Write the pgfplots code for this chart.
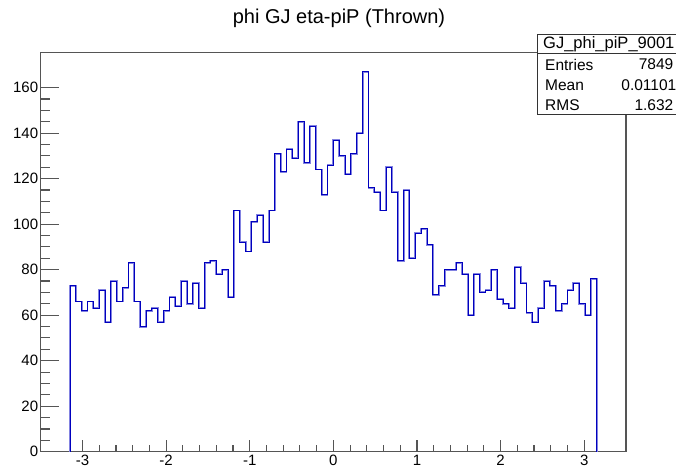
\documentclass[border=0pt]{standalone}
\usepackage{pgfplots}
\pgfplotsset{compat=1.18}
\usepackage{fontspec}
\setmainfont{Liberation Sans}
\definecolor{rootblue}{RGB}{0,0,190}
\definecolor{halo}{RGB}{130,130,225}
\definecolor{framegray}{RGB}{85,85,85}
\pgfplotstableread{
x y
-3.15 0
-3.15 73
-3.08 66
-3.01 62
-2.94 66
-2.87 63
-2.80 71
-2.73 57
-2.66 75
-2.59 66
-2.52 72
-2.45 83
-2.38 66
-2.31 55
-2.24 62
-2.17 63
-2.10 57
-2.03 62
-1.96 68
-1.89 64
-1.82 75
-1.75 65
-1.68 74
-1.61 63
-1.54 83
-1.47 84
-1.40 78
-1.33 80
-1.26 68
-1.19 106
-1.12 92
-1.05 88
-0.98 101
-0.91 104
-0.84 92
-0.77 106
-0.70 131
-0.63 123
-0.56 133
-0.49 129
-0.42 145
-0.35 127
-0.28 143
-0.21 124
-0.14 113
-0.07 126
0.00 137
0.07 130
0.14 122
0.21 131
0.28 140
0.35 167
0.42 116
0.49 114
0.56 106
0.63 125
0.70 114
0.77 84
0.84 115
0.91 85
0.98 96
1.05 98
1.12 91
1.19 69
1.26 73
1.33 80
1.40 80
1.47 83
1.54 78
1.61 60
1.68 78
1.75 70
1.82 71
1.89 80
1.96 67
2.03 65
2.10 63
2.17 81
2.24 74
2.31 61
2.38 57
2.45 63
2.52 75
2.59 73
2.66 62
2.73 65
2.80 71
2.87 74
2.94 65
3.01 60
3.08 76
3.15 76
3.15 0
}\histdata
\begin{document}
\begin{tikzpicture}[x=1pt,y=1pt]
\useasboundingbox (0,0) rectangle (676,472);
\begin{axis}[
  at={(40.7pt,20.3pt)}, anchor=south west,
  scale only axis, width=585.3pt, height=399pt,
  xmin=-3.5, xmax=3.5, ymin=0, ymax=175.35,
  xtick={-3,-2,...,3}, ytick={0,20,...,160},
  minor x tick num=4, minor y tick num=3,
  tick align=inside, xtick pos=bottom, ytick pos=left,
  axis line style={framegray, line width=1.1pt},
  every tick/.style={framegray, line width=1.1pt},
  x tick style={/pgfplots/major tick length=12pt,/pgfplots/minor tick length=6.5pt},
  y tick style={/pgfplots/major tick length=18.5pt,/pgfplots/minor tick length=9.3pt},
  tick label style={font=\fontsize{15}{18}\selectfont},
  /pgf/number format/assume math mode=true,
  yticklabel style={xshift=1pt},
]
\addplot[const plot, draw=halo, line width=1.9pt, no marks] table[x=x,y=y] {\histdata};
\addplot[const plot, draw=rootblue, line width=0.9pt, no marks] table[x=x,y=y] {\histdata};
\end{axis}
\node[font=\fontsize{20}{24}\selectfont] at (339,454) {phi GJ eta-piP (Thrown)};
\draw[fill=white, draw=black!80, line width=1pt] (537.5,357.7) rectangle (690,437);
\draw[black!80, line width=1pt] (537.5,418.5) -- (690,418.5);
\node[anchor=west, inner sep=0pt, font=\fontsize{16.5}{19}\selectfont] at (543,427.6) {GJ\_phi\_piP\_9001};
\node[anchor=west, inner sep=0pt, font=\fontsize{15.5}{18}\selectfont] at (545,407.5) {Entries};
\node[anchor=east, inner sep=0pt, font=\fontsize{15.5}{18}\selectfont] at (673.5,407.5) {7849};
\node[anchor=west, inner sep=0pt, font=\fontsize{15.5}{18}\selectfont] at (545,387) {Mean};
\node[anchor=east, inner sep=0pt, font=\fontsize{15.5}{18}\selectfont] at (676.5,387) {0.01101};
\node[anchor=west, inner sep=0pt, font=\fontsize{15.5}{18}\selectfont] at (545,366.6) {RMS};
\node[anchor=east, inner sep=0pt, font=\fontsize{15.5}{18}\selectfont] at (673.5,366.6) {1.632};
\end{tikzpicture}
\end{document}
